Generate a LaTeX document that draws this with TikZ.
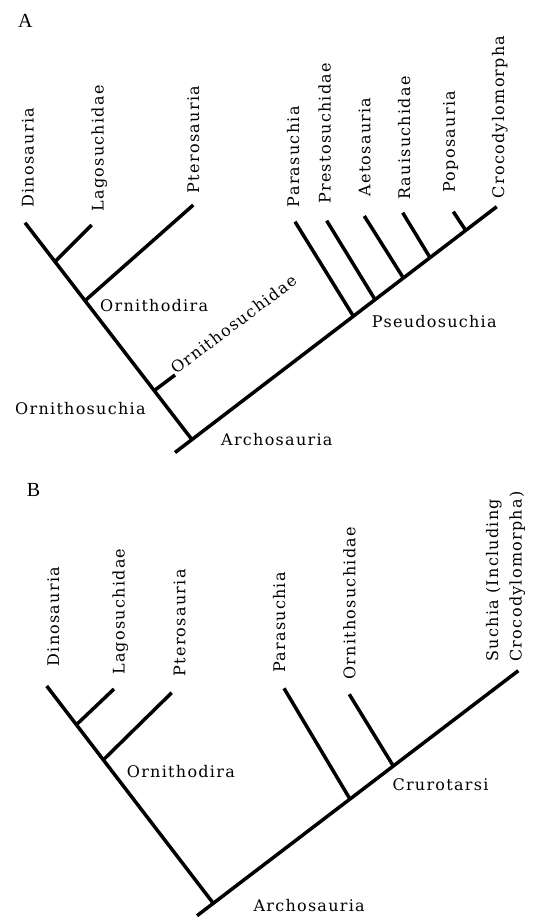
\documentclass[tikz,border=0pt]{standalone}
\usepackage{fontspec}
\newfontfamily\labfont[LetterSpace=8]{DejaVu Serif}
\newfontfamily\panfont{Liberation Serif}
\begin{document}
\begin{tikzpicture}[x=1pt,y=-1pt,
  branch/.style={line width=3.5pt},
  lab/.style={font={\labfont\fontsize{16}{23.5}\selectfont}, inner sep=0pt},
  vlab/.style={lab, rotate=90, anchor=base west},
  hlab/.style={lab, anchor=base west},
  panel/.style={font={\panfont\fontsize{20}{24}\selectfont}, inner sep=0pt, anchor=base west}]
\useasboundingbox (0,0) rectangle (550,917);

% ---------------- Panel A ----------------
\node[panel] (pA) at (18,28) {A};

\coordinate (aDino) at (25,222.7);
\coordinate (aRoot) at (191.7,439.3);
\coordinate (aBase) at (175,452.5);
\coordinate (aCroc) at (496.7,206.7);
\coordinate (aJLago) at (55.0,261.7);
\coordinate (aLago) at (91.7,225);
\coordinate (aJPter) at (85.0,300.7);
\coordinate (aPter) at (193.3,205);
\coordinate (aJOrn) at (154.2,390.6);
\coordinate (aOrn) at (175,375);
\coordinate (aJPara) at (353.3,316.1);
\coordinate (aPara) at (295,221.7);
\coordinate (aJPres) at (375,299.5);
\coordinate (aPres) at (326.7,220.7);
\coordinate (aJAeto) at (403.3,277.9);
\coordinate (aAeto) at (364.3,216);
\coordinate (aJRaui) at (430,257.6);
\coordinate (aRaui) at (402.7,212.7);
\coordinate (aJPopo) at (465.7,230.4);
\coordinate (aPopo) at (453.3,211.7);

\draw[branch] (aDino) -- (aRoot);
\draw[branch] (aBase) -- (aCroc);
\draw[branch] (aJLago) -- (aLago);
\draw[branch] (aJPter) -- (aPter);
\draw[branch] (aJOrn) -- (aOrn);
\draw[branch] (aJPara) -- (aPara);
\draw[branch] (aJPres) -- (aPres);
\draw[branch] (aJAeto) -- (aAeto);
\draw[branch] (aJRaui) -- (aRaui);
\draw[branch] (aJPopo) -- (aPopo);

\node[vlab] (tDinoA) at (33.6,208) {Dinosauria};
\node[vlab] (tLagoA) at (103.5,211.7) {Lagosuchidae};
\node[vlab] (tPterA) at (199.2,193.3) {Pterosauria};
\node[vlab] (tParaA) at (299.2,207.3) {Parasuchia};
\node[vlab] (tPresA) at (330.6,204) {Prestosuchidae};
\node[vlab] (tAetoA) at (370.4,196.7) {Aetosauria};
\node[vlab] (tRauiA) at (410,200) {Rauisuchidae};
\node[vlab] (tPopoA) at (454.8,192.7) {Poposauria};
\node[vlab] (tCrocA) at (504.2,198.3) {Crocodylomorpha};

\node[hlab] (tOrndA) at (100,311.5) {Ornithodira};
\node[hlab] (tOrnsA) at (15,414.5) {Ornithosuchia};
\node[hlab] (tPseuA) at (371.7,327) {Pseudosuchia};
\node[hlab] (tArchA) at (221,445) {Archosauria};
\node[lab, rotate=37, anchor=base west] (tOrnA) at ([xshift=1pt]aOrn) {Ornithosuchidae};

% ---------------- Panel B ----------------
\node[panel] (pB) at (26.7,496.7) {B};

\coordinate (bDino) at (46.7,686);
\coordinate (bRoot) at (213.3,903.3);
\coordinate (bBase) at (197,915.7);
\coordinate (bSuch) at (518.3,670.7);
\coordinate (bJLago) at (76.4,724.7);
\coordinate (bLago) at (114,689);
\coordinate (bJPter) at (103.3,759.9);
\coordinate (bPter) at (171.7,692.7);
\coordinate (bJPara) at (350,799.1);
\coordinate (bPara) at (284,688.3);
\coordinate (bJOrn) at (393.3,766.0);
\coordinate (bOrn) at (349.3,694.3);

\draw[branch] (bDino) -- (bRoot);
\draw[branch] (bBase) -- (bSuch);
\draw[branch] (bJLago) -- (bLago);
\draw[branch] (bJPter) -- (bPter);
\draw[branch] (bJPara) -- (bPara);
\draw[branch] (bJOrn) -- (bOrn);

\node[vlab] (tDinoB) at (59.2,666.7) {Dinosauria};
\node[vlab] (tLagoB) at (124.6,675) {Lagosuchidae};
\node[vlab] (tPterB) at (185.4,676.7) {Pterosauria};
\node[vlab] (tParaB) at (285.2,673) {Parasuchia};
\node[vlab] (tOrnB) at (355.4,680) {Ornithosuchidae};
\node[vlab, align=left] (tSuchB) at (521.6,661.7) {Suchia (Including\\Crocodylomorpha)};

\node[hlab] (tOrndB) at (126.7,777.5) {Ornithodira};
\node[hlab] (tCrurB) at (392.3,790.5) {Crurotarsi};
\node[hlab] (tArchB) at (253.3,911.5) {Archosauria};
\end{tikzpicture}
\end{document}
